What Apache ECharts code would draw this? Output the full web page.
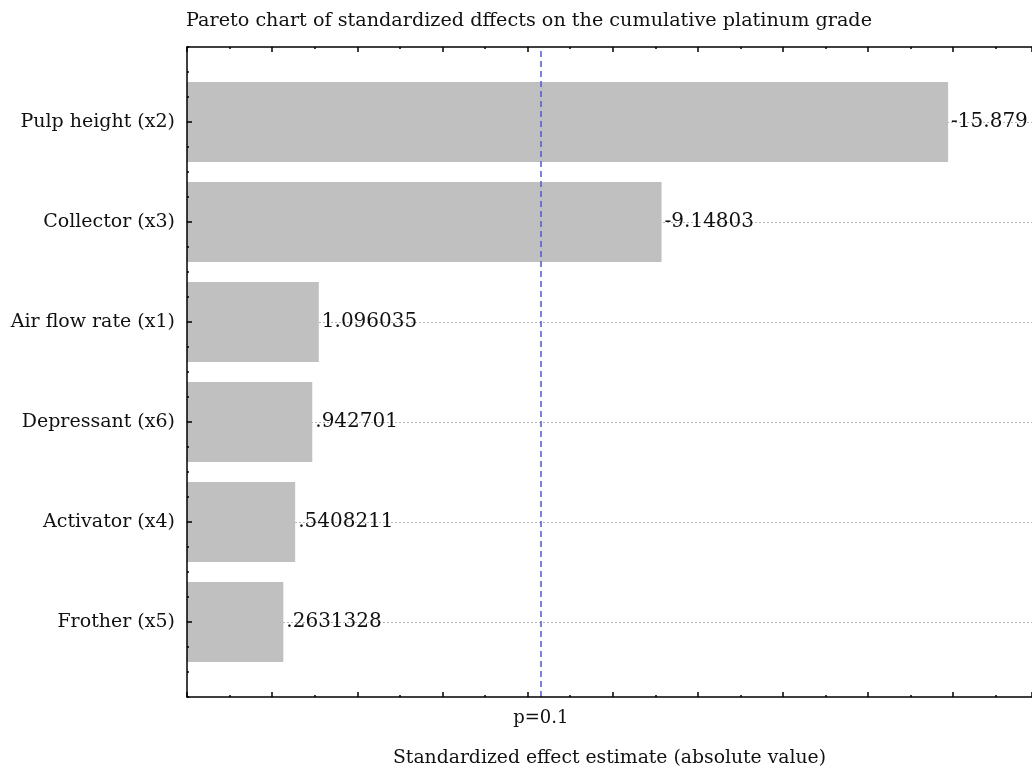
<!DOCTYPE html>
<html>
<head>
<meta charset="utf-8">
<script src="https://cdn.jsdelivr.net/npm/echarts@6/dist/echarts.min.js"></script>
<style>html,body{margin:0;padding:0;background:#fff}#c{width:1032px;height:771px}</style>
</head>
<body>
<div id="c"></div>
<script>
const categories = ['Pulp height (x2)', 'Collector (x3)', 'Air flow rate (x1)', 'Depressant (x6)', 'Activator (x4)', 'Frother (x5)'];
const effects = [15.879, 9.14803, 1.096035, 0.942701, 0.5408211, 0.2631328];
const effectLabels = ['-15.879', '-9.14803', '1.096035', '.942701', '.5408211', '.2631328'];
const pCritical = 6.314;
const pLabel = 'p=0.1';
const xMin = -2, xMax = 17.85;

const FONT = 'DejaVu Serif';
const chart = echarts.init(document.getElementById('c'));
chart.setOption({
  animation: false,
  backgroundColor: '#fff',
  textStyle: { fontFamily: FONT },
  title: {
    text: 'Pareto chart of standardized dffects on the cumulative platinum grade',
    left: 181, top: 7,
    textStyle: { fontFamily: FONT, fontSize: 19.2, fontWeight: 'normal', color: '#111' }
  },
  grid: [
    { left: 187, right: 0, top: 122, height: 500, containLabel: false, outerBoundsMode: 'none' },
    { left: 187, right: 0, top: 47, bottom: 74, containLabel: false, outerBoundsMode: 'none' }
  ],
  xAxis: [
    { gridIndex: 0, type: 'value', min: xMin, max: xMax, startValue: xMin, show: false },
    { gridIndex: 1, type: 'value', min: xMin, max: xMax, interval: 2, position: 'bottom', z: 5,
      axisLine: { show: true, onZero: false, lineStyle: { color: '#000', width: 1.5 } },
      axisTick: { show: true, inside: true, length: 5, lineStyle: { color: '#000', width: 1.5 } },
      minorTick: { show: true, splitNumber: 2, length: 2, lineStyle: { color: '#000', width: 1.5 } },
      axisLabel: { show: false }, splitLine: { show: false },
      name: 'Standardized effect estimate (absolute value)', nameLocation: 'middle', nameGap: 52,
      nameTextStyle: { fontFamily: FONT, fontSize: 18.8, color: '#111' } },
    { gridIndex: 1, type: 'value', min: xMin, max: xMax, interval: 2, position: 'top', z: 5,
      axisLine: { show: true, onZero: false, lineStyle: { color: '#000', width: 1.5 } },
      axisTick: { show: true, inside: true, length: 5, lineStyle: { color: '#000', width: 1.5 } },
      minorTick: { show: true, splitNumber: 2, length: 2, lineStyle: { color: '#000', width: 1.5 } },
      axisLabel: { show: false }, splitLine: { show: false } }
  ],
  yAxis: [
    { gridIndex: 0, type: 'category', inverse: true, boundaryGap: false, data: categories, position: 'left',
      axisLine: { show: false, onZero: false }, axisTick: { show: false }, axisLabel: { show: false },
      splitLine: { show: true, lineStyle: { color: '#b4b4b4', type: [2, 2], width: 1 } } },
    { gridIndex: 0, type: 'category', inverse: true, boundaryGap: false, data: categories, position: 'left', offset: 0, z: 5,
      axisLine: { show: false, onZero: false },
      axisTick: { show: true, inside: true, length: 5, lineStyle: { color: '#000', width: 1.5 } },
      axisLabel: { show: true, margin: 12, fontFamily: FONT, fontSize: 19, color: '#111' },
      splitLine: { show: false } },
    { gridIndex: 1, type: 'value', min: 0, max: 6.5, interval: 0.25, z: 5,
      axisLine: { show: true, onZero: false, lineStyle: { color: '#000', width: 1.5 } },
      axisTick: { show: true, inside: true, length: 2, lineStyle: { color: '#000', width: 1.5 } },
      axisLabel: { show: false }, splitLine: { show: false } }
  ],
  series: [
    {
      type: 'bar', xAxisIndex: 0, yAxisIndex: 0,
      data: effects, barWidth: 80, clip: false,
      itemStyle: { color: '#c0c0c0' },
      label: { show: true, position: 'right', distance: 3, fontFamily: FONT, fontSize: 20, color: '#111',
        formatter: p => effectLabels[p.dataIndex] }
    },
    {
      type: 'line', xAxisIndex: 1, yAxisIndex: 2, data: [],
      markLine: {
        silent: true, symbol: 'none',
        lineStyle: { color: '#5555d5', type: [6, 4], width: 1.5 },
        label: { show: true, position: 'start', distance: 12, formatter: pLabel,
          fontFamily: FONT, fontSize: 18, color: '#111' },
        data: [{ xAxis: pCritical }]
      }
    }
  ]
});
</script>
</body>
</html>
